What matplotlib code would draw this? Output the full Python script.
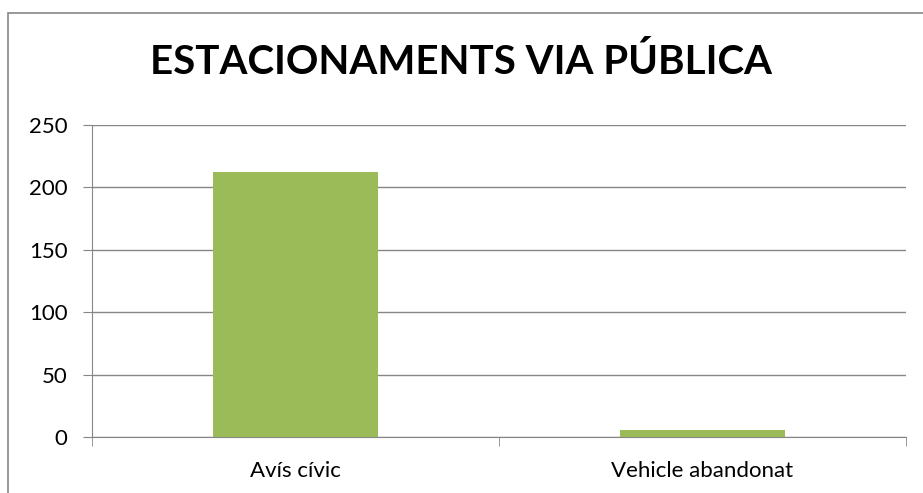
import matplotlib
matplotlib.use("Agg")
import matplotlib.pyplot as plt
from matplotlib.patches import Rectangle

categories = ["Avís cívic", "Vehicle abandonat"]
values = [212, 6]
yticks = [0, 50, 100, 150, 200, 250]
title = "ESTACIONAMENTS VIA PÚBLICA"

plt.rcParams['font.family'] = ['Lato', 'DejaVu Sans']

W, H = 923, 493
fig = plt.figure(figsize=(W/100, H/100), dpi=100)
ax = fig.add_axes([92/W, 1-437/H, (906-92)/W, (437-125)/H])

x = list(range(len(categories)))
ax.bar(x, values, width=0.403, color="#9BBB59", zorder=3)
ax.set_xlim(-0.5, len(categories)-0.5)
ax.set_ylim(0, 250)
ax.set_yticks(yticks)
ax.set_yticklabels([str(t) for t in yticks], fontsize=16)
ax.set_xticks(x)
ax.set_xticklabels(categories, fontsize=16)
ax.tick_params(axis='x', length=0, pad=17)
ax.tick_params(axis='y', length=6.5, color="#868686", pad=11)
ax.set_xticks([-0.5, 0.5, 1.5], minor=True)
ax.tick_params(axis='x', which='minor', length=6.5, color="#868686")
ax.grid(axis='y', color="#868686", linewidth=1, zorder=0)
for s in ['top', 'right']:
    ax.spines[s].set_visible(False)
ax.spines['left'].set_color("#868686")
ax.spines['bottom'].set_color("#868686")

fig.text(0.5, 1-62/H, title, ha='center', va='center', fontsize=29, fontweight='bold')

fig.patches.append(Rectangle((8/W, -0.05), 1.0, 1-13/H+0.05, transform=fig.transFigure,
                             fill=False, edgecolor="#868686", linewidth=1.2))

fig.savefig("out.png", dpi=100)
